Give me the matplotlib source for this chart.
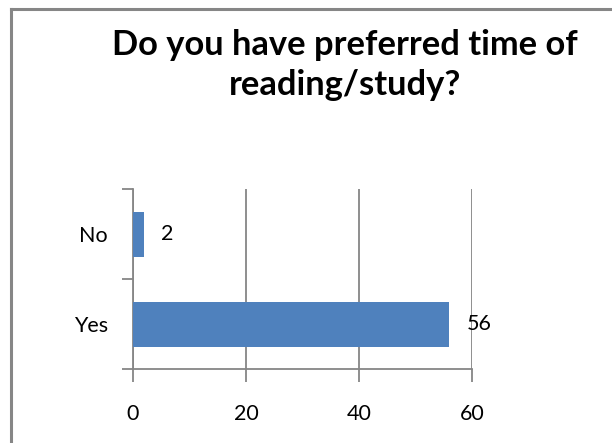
import matplotlib
matplotlib.use("Agg")
import matplotlib.pyplot as plt
from matplotlib.lines import Line2D

categories = ["Yes", "No"]
counts = [56, 2]
xticks = [0, 20, 40, 60]

W, H = 612, 443
fig = plt.figure(figsize=(W / 100, H / 100), dpi=100)
fig.patch.set_facecolor("white")

# frame of the chart area (top and left edges only)
fig.add_artist(Line2D([11 / W, 1], [1 - 9 / H, 1 - 9 / H], color="#868686", lw=2.2))
fig.add_artist(Line2D([11 / W, 11 / W], [0, 1 - 9 / H], color="#868686", lw=2.2))

fig.text(345 / W, 1 - 45 / H, "Do you have preferred time of", ha="center", va="center",
         fontsize=24.8, fontweight="bold", family="Lato")
fig.text(345 / W, 1 - 85 / H, "reading/study?", ha="center", va="center",
         fontsize=24.8, fontweight="bold", family="Lato")

x0, x1, y0, y1 = 133, 472, 189, 369
ax = fig.add_axes([x0 / W, 1 - y1 / H, (x1 - x0) / W, (y1 - y0) / H])

pos = range(len(categories))
ax.barh(pos, counts, height=0.5, color="#4f81bd", zorder=3)
for p, v in zip(pos, counts):
    ax.text(v + 3.0, p, str(v), va="center", ha="left", fontsize=15.5, family="Lato")

ax.set_xlim(0, 60)
ax.set_ylim(-0.5, 1.5)
ax.set_xticks(xticks)
ax.set_xticklabels([str(t) for t in xticks], fontsize=15.5, family="Lato")
ax.set_yticks(list(pos))
ax.set_yticklabels(categories, fontsize=15.5, family="Lato")
ax.set_yticks([-0.5, 0.5, 1.5], minor=True)
ax.tick_params(axis="y", which="major", length=0, pad=18)
ax.tick_params(axis="y", which="minor", length=8, width=1.3, color="#868686")
ax.tick_params(axis="x", length=9, width=1.3, color="#868686", pad=16, direction="out")
ax.grid(axis="x", color="#868686", lw=1.3, zorder=0)

for s in ["top", "right"]:
    ax.spines[s].set_visible(False)
for s in ["left", "bottom"]:
    ax.spines[s].set_color("#868686")
    ax.spines[s].set_linewidth(1.3)

fig.savefig("out.png", dpi=100)
